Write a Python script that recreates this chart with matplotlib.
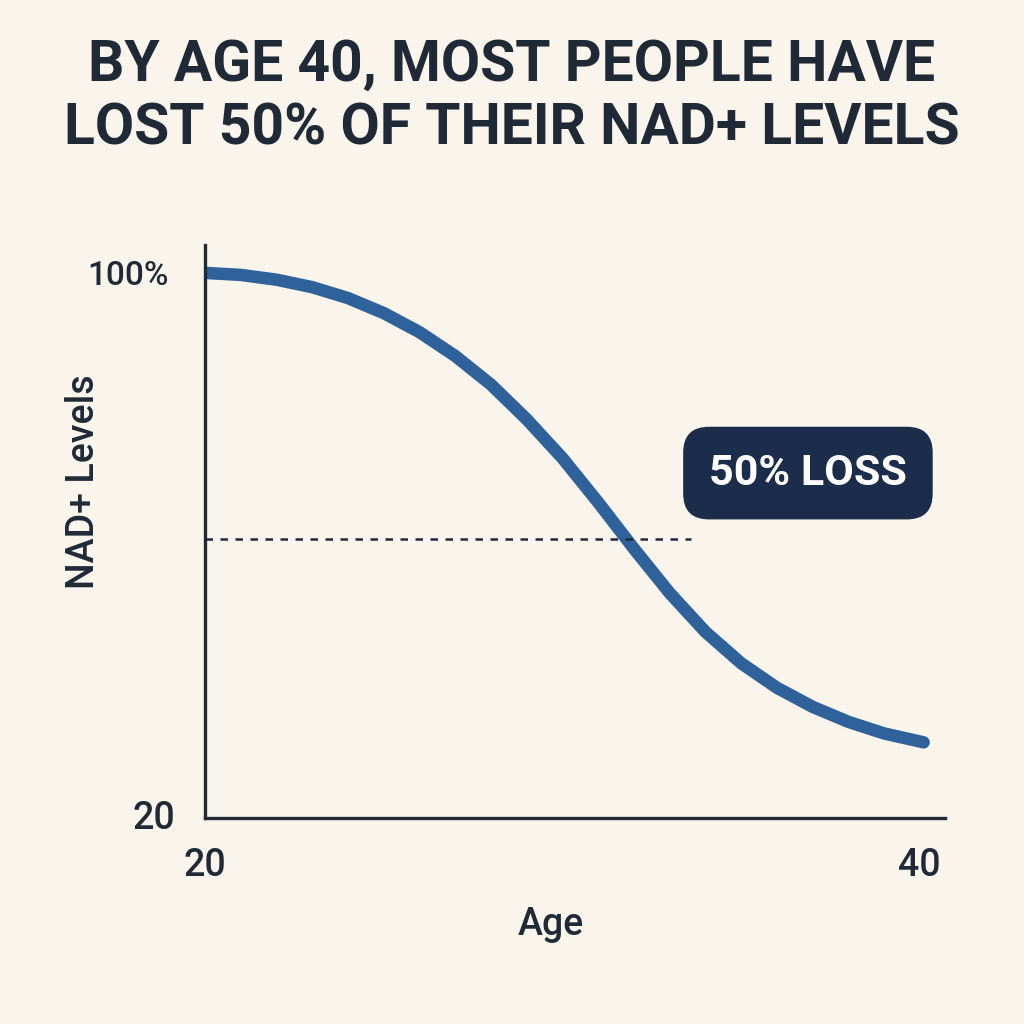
import matplotlib
matplotlib.use("Agg")
import matplotlib.pyplot as plt

# values
ages = [20, 21, 22, 23, 24, 25, 26, 27, 28, 29, 30, 31, 32, 33, 34, 35, 36, 37, 38, 39, 40.1]
nad = [100, 99.7, 99.0, 97.9, 96.3, 94.1, 91.3, 87.8, 83.6, 78.5, 72.8, 66.3, 59.5, 53.0, 47.3, 42.7, 39.1, 36.3, 34.1, 32.4, 31.1]
half_level = 61
dash_end = 33.6

BG = "#faf5ec"
INK = "#1f2a36"
LINE = "#2f619a"
BOX = "#1b2d4a"

plt.rcParams["font.family"] = ["Roboto", "DejaVu Sans"]

fig = plt.figure(figsize=(10.24, 10.24), dpi=100, facecolor=BG)
ax = fig.add_axes([0.2002, 0.2012, 0.7227, 0.5596])
ax.set_facecolor(BG)
ax.set_xlim(20, 40.7)
ax.set_ylim(20, 104.1)

ax.plot(ages, nad, color=LINE, lw=9, solid_capstyle="round", solid_joinstyle="round")
ax.plot([20, dash_end], [half_level, half_level], color=INK, lw=1.8, ls=(0, (3, 3)))

for s in ["top", "right"]:
    ax.spines[s].set_visible(False)
for s in ["left", "bottom"]:
    ax.spines[s].set_color(INK)
    ax.spines[s].set_linewidth(2.4)
ax.set_xticks([])
ax.set_yticks([])

fig.text(0.5, 0.905, "BY AGE 40, MOST PEOPLE HAVE\nLOST 50% OF THEIR NAD+ LEVELS",
         ha="center", va="center", fontsize=41, fontweight="bold", color=INK,
         linespacing=1.2)

fig.text(0.125, 0.73, "100%", ha="center", va="center", fontsize=24,
         fontweight="medium", color=INK)
fig.text(0.150, 0.201, "20", ha="center", va="center", fontsize=27,
         fontweight="medium", color=INK)
fig.text(0.200, 0.155, "20", ha="center", va="center", fontsize=27,
         fontweight="medium", color=INK)
fig.text(0.898, 0.155, "40", ha="center", va="center", fontsize=27,
         fontweight="medium", color=INK)
fig.text(0.538, 0.097, "Age", ha="center", va="center", fontsize=27,
         fontweight="medium", color=INK)
fig.text(0.082, 0.53, "NAD+ Levels", ha="center", va="center", fontsize=27,
         fontweight="medium", color=INK, rotation=90)

fig.text(0.789, 0.538, "50% LOSS", ha="center", va="center", fontsize=31,
         fontweight="bold", color="white",
         bbox=dict(boxstyle="round,pad=0.6,rounding_size=0.6", fc=BOX, ec="none"))

fig.savefig("out.png", dpi=100, facecolor=BG)
